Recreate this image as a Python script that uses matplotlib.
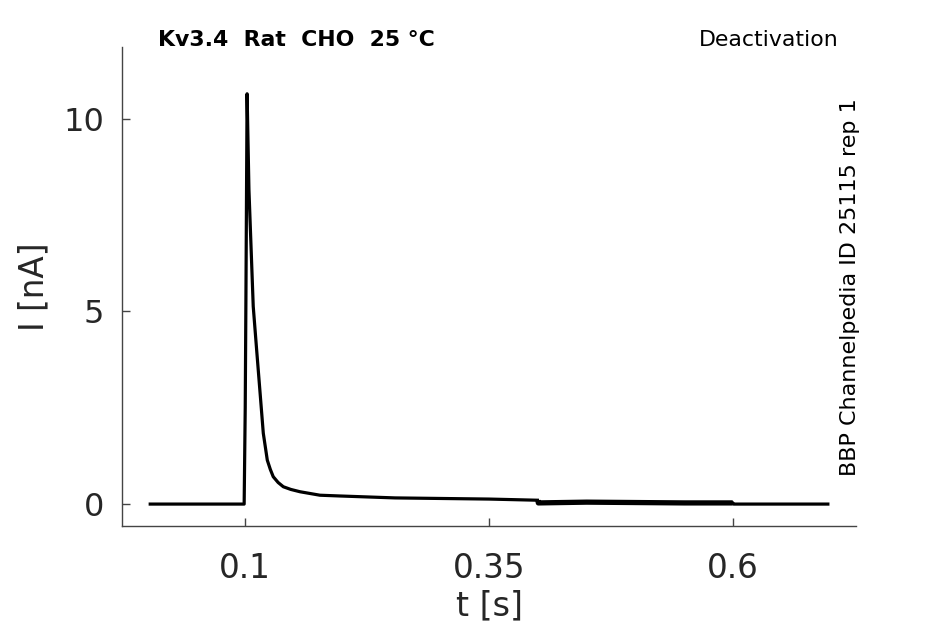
import matplotlib
matplotlib.use("Agg")
import matplotlib.pyplot as plt

# trace (time in s, current in nA)
t_trace = [0.003, 0.0992, 0.1003, 0.1010, 0.1022, 0.1041, 0.1085, 0.1120, 0.1161,
           0.1188, 0.1229, 0.1260, 0.1290, 0.1340, 0.1393, 0.1470, 0.1564, 0.1768,
           0.1973, 0.2537, 0.35, 0.3995]
i_trace = [0.0, 0.0, 2.5, 5.3, 10.65, 8.16, 5.13, 4.00, 2.70,
           1.84, 1.14, 0.90, 0.71, 0.56, 0.45, 0.38, 0.32, 0.23,
           0.21, 0.16, 0.13, 0.10]

# noisy stretch between the steps
t_noisy = [0.4, 0.4005, 0.45, 0.5, 0.55, 0.5995]
i_noisy = [0.10, 0.03, 0.05, 0.04, 0.03, 0.03]

t_tail = [0.5995, 0.6005, 0.697]
i_tail = [0.03, 0.0, 0.0]

x_ticks = [0.1, 0.35, 0.6]
x_ticklabels = ["0.1", "0.35", "0.6"]
y_ticks = [0, 5, 10]

fig = plt.figure(figsize=(9.45, 6.24), dpi=100)
ax = fig.add_axes([0.129, 0.157, 0.777, 0.768])

ax.plot(t_trace, i_trace, color="black", linewidth=2.3, solid_joinstyle="round")
ax.plot(t_noisy, i_noisy, color="black", linewidth=3.8, solid_capstyle="butt")
ax.plot(t_tail, i_tail, color="black", linewidth=2.3)

ax.set_xlim(-0.026, 0.726)
ax.set_ylim(-0.57, 11.87)

ax.spines["top"].set_visible(False)
ax.spines["right"].set_visible(False)
for s in ["left", "bottom"]:
    ax.spines[s].set_color("#444444")
    ax.spines[s].set_linewidth(1.0)

ax.set_xticks(x_ticks)
ax.set_xticklabels(x_ticklabels)
ax.set_yticks(y_ticks)
ax.tick_params(axis="x", direction="in", length=6, width=1, colors="#444444",
               labelcolor="#262626", labelsize=23.5, pad=19)
ax.tick_params(axis="y", direction="in", length=6, width=1, colors="#444444",
               labelcolor="#262626", labelsize=23, pad=13)

ax.set_xlabel("t [s]", fontsize=24, color="#262626", labelpad=3)
ax.set_ylabel("I [nA]", fontsize=23.5, color="#262626", labelpad=9)

fig.text(158 / 945, 1 - 46 / 624, "Kv3.4  Rat  CHO  25 °C", fontsize=15.8,
         fontweight="bold", color="black", ha="left", va="baseline")
fig.text(839 / 945, 1 - 46 / 624, "Deactivation", fontsize=15.8,
         color="black", ha="right", va="baseline")
fig.text(850 / 945, 1 - 287 / 624, "BBP Channelpedia ID 25115 rep 1", fontsize=16,
         color="black", rotation=90, ha="center", va="center")

fig.savefig("out.png", dpi=100)
